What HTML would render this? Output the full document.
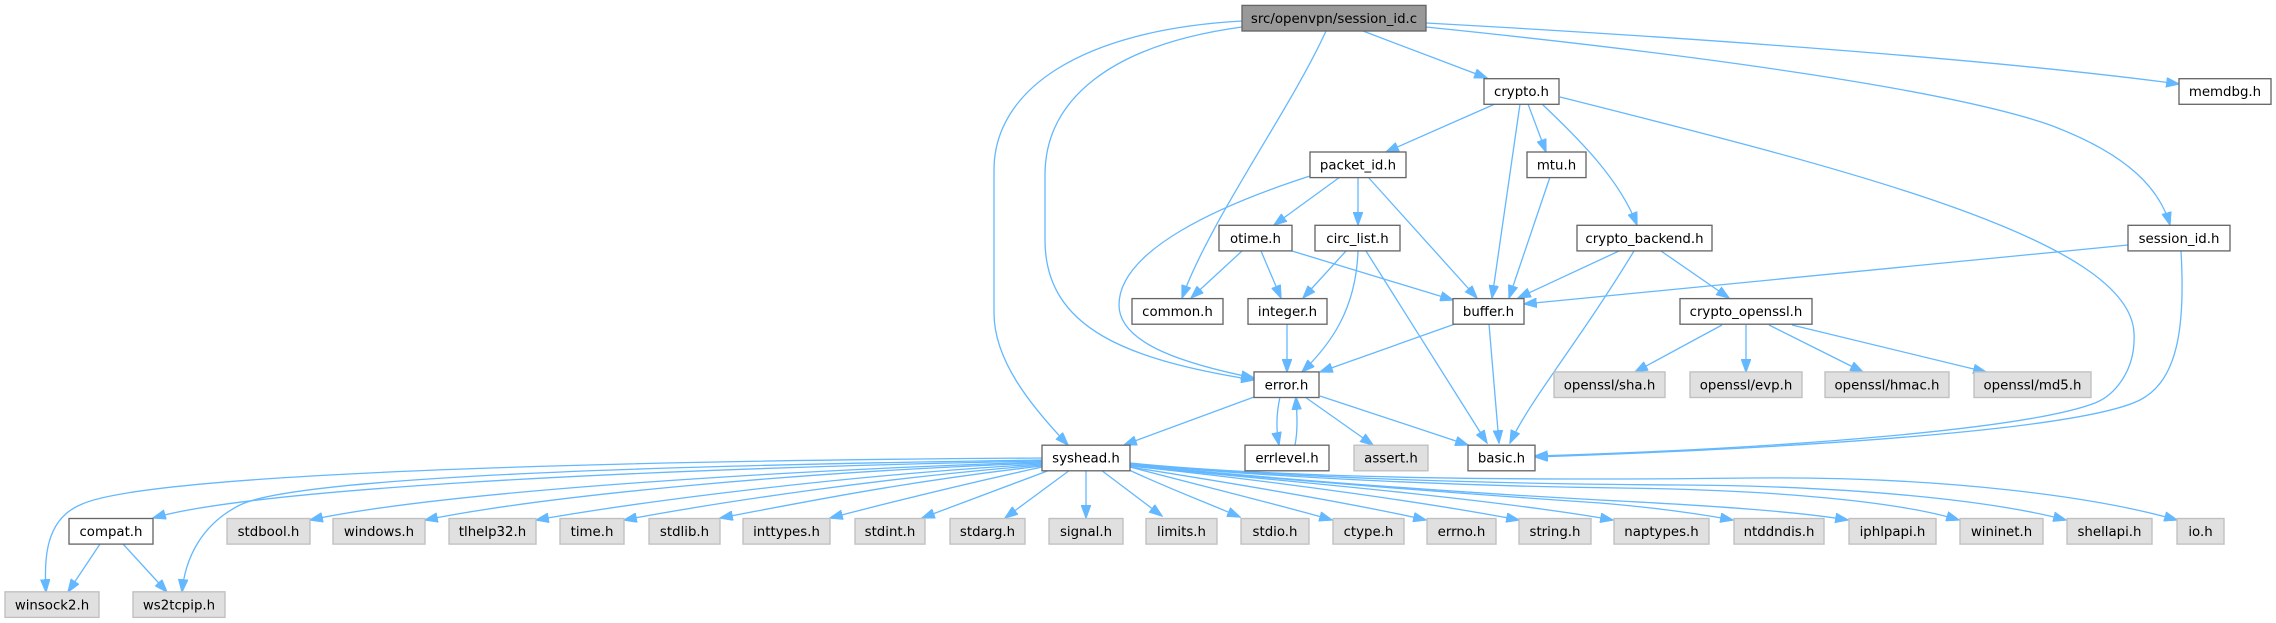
<!DOCTYPE html>
<html><head><meta charset="utf-8"><style>
html,body{margin:0;padding:0;background:#fff;width:2276px;height:623px;overflow:hidden}
svg{display:block}
.e{fill:none;stroke:#63b8ff;stroke-width:1.3;marker-end:url(#a)}
.w{fill:#fff;stroke:#666;stroke-width:1.33}
.g{fill:#e0e0e0;stroke:#bfbfbf;stroke-width:1.33}
.r{fill:#999;stroke:#666;stroke-width:1.33}
text{font-family:"DejaVu Sans","Liberation Sans",sans-serif;font-size:13.33px;fill:#000;text-anchor:middle}
</style></head><body>
<svg width="2276" height="623" viewBox="0 0 2276 623" xmlns="http://www.w3.org/2000/svg">
<defs><marker id="a" markerUnits="userSpaceOnUse" markerWidth="14" markerHeight="10" viewBox="0 0 13 9.4" refX="12" refY="4.7" orient="auto"><path d="M0,0 L13,4.7 L0,9.4 z" fill="#63b8ff" stroke="#63b8ff" stroke-width="0.5"/></marker></defs>
<!-- edges -->
<path class="e" d="M1242,21 C1080,30 994,90 994,170 L994,313 C994,360 1030,405 1068,445"/>
<path class="e" d="M1242,27 C1110,45 1045,100 1045,175 L1045,240 C1045,330 1130,360 1254,380"/>
<path class="e" d="M1326,31 C1290,110 1210,220 1182,298"/>
<path class="e" d="M1363,31 L1487,78"/>
<path class="e" d="M1426,23 C1700,38 2000,60 2179,84"/>
<path class="e" d="M1426,27 C1700,55 1950,90 2050,125 C2130,155 2160,190 2170,225"/>
<path class="e" d="M1495,104 L1386,152"/>
<path class="e" d="M1520,104 L1492,298"/>
<path class="e" d="M1528,104 L1546,152"/>
<path class="e" d="M1542,104 C1580,140 1620,180 1637,225"/>
<path class="e" d="M1560,97 C1850,170 2130,240 2134,333 C2136,370 2115,395 2095,403 C2030,428 1800,448 1535,456"/>
<path class="e" d="M2128,245 L1524,304"/>
<path class="e" d="M2181,251 C2185,320 2180,380 2140,400 C2080,430 1800,448 1535,457"/>
<path class="e" d="M1550,177 L1509,298"/>
<path class="e" d="M1619,251 L1518,298"/>
<path class="e" d="M1634,251 C1580,340 1530,400 1510,443"/>
<path class="e" d="M1661,251 L1729,298"/>
<path class="e" d="M1722,325 L1635,372"/>
<path class="e" d="M1746,325 L1746,372"/>
<path class="e" d="M1769,325 L1863,372"/>
<path class="e" d="M1792,325 L1986,372"/>
<path class="e" d="M1340,177 L1274,225"/>
<path class="e" d="M1358,177 L1358,225"/>
<path class="e" d="M1368,177 L1477,298"/>
<path class="e" d="M1310,176 C1220,205 1119,250 1119,305 C1119,345 1190,365 1254,378"/>
<path class="e" d="M1242,251 L1191,298"/>
<path class="e" d="M1261,251 L1281,298"/>
<path class="e" d="M1292,251 L1453,300"/>
<path class="e" d="M1346,251 L1303,298"/>
<path class="e" d="M1358,251 C1356,310 1330,345 1302,372"/>
<path class="e" d="M1366,251 L1487,443"/>
<path class="e" d="M1287,324 L1287,372"/>
<path class="e" d="M1455,324 L1320,372"/>
<path class="e" d="M1489,324 L1499,443"/>
<path class="e" d="M1254,397 L1124,445"/>
<path class="e" d="M1280,397 C1276,415 1276,430 1279,445"/>
<path class="e" d="M1295,445 C1298,430 1297,415 1296,397"/>
<path class="e" d="M1305,397 L1373,445"/>
<path class="e" d="M1320,396 L1468,445"/>
<path class="e" d="M1042,458 C700,460 150,470 80,505 C45,520 44,560 46,592"/>
<path class="e" d="M1042,460 C700,465 300,475 240,505 C200,525 185,560 182,592"/>
<path class="e" d="M1042,461 C600,470 250,490 153,518"/>
<path class="e" d="M1042,462 C800,470 450,490 310,520"/>
<path class="e" d="M1042,463 C800,472 550,495 425,520"/>
<path class="e" d="M1042,464 C850,475 650,500 536,520"/>
<path class="e" d="M1042,465 C880,478 720,502 624,520"/>
<path class="e" d="M1042,466 C900,482 790,505 720,518"/>
<path class="e" d="M1042,467 C960,485 880,505 830,518"/>
<path class="e" d="M1050,470 L922,518"/>
<path class="e" d="M1070,470 L1005,518"/>
<path class="e" d="M1086,470 L1086,518"/>
<path class="e" d="M1101,470 L1162,516"/>
<path class="e" d="M1125,468 C1160,485 1200,500 1240,517"/>
<path class="e" d="M1130,467 C1210,488 1280,505 1332,520"/>
<path class="e" d="M1130,467 C1250,486 1360,505 1426,520"/>
<path class="e" d="M1130,466 C1300,484 1440,505 1519,520"/>
<path class="e" d="M1130,466 C1300,482 1500,500 1613,520"/>
<path class="e" d="M1130,465 C1280,480 1480,495 1600,503 C1660,508 1700,514 1733,520"/>
<path class="e" d="M1130,465 C1280,479 1450,492 1600,500 C1720,506 1800,512 1848,520"/>
<path class="e" d="M1130,464 C1280,478 1460,486 1620,488 C1780,490 1900,502 1959,520"/>
<path class="e" d="M1130,464 C1280,477 1480,484 1680,485 C1850,486 1990,500 2066,520"/>
<path class="e" d="M1130,463 C1280,478 1500,481 1750,478 C1950,476 2100,498 2177,520"/>
<path class="e" d="M100,544 L68,592"/>
<path class="e" d="M123,544 L167,592"/>
<!-- nodes -->
<rect class="r" x="1242" y="5.4" width="184" height="25.6"/><text x="1334" y="22.9">src/openvpn/session_id.c</text>
<rect class="w" x="1484" y="78.7" width="75" height="25.6"/><text x="1521.5" y="96.2">crypto.h</text>
<rect class="w" x="2179" y="78.7" width="92" height="25.6"/><text x="2225" y="96.2">memdbg.h</text>
<rect class="w" x="1310" y="152" width="96" height="25.6"/><text x="1358" y="169.5">packet_id.h</text>
<rect class="w" x="1527" y="152" width="59" height="25.6"/><text x="1556.5" y="169.5">mtu.h</text>
<rect class="w" x="1219" y="225.3" width="73" height="25.6"/><text x="1255.5" y="242.8">otime.h</text>
<rect class="w" x="1315" y="225.3" width="85" height="25.6"/><text x="1357.5" y="242.8">circ_list.h</text>
<rect class="w" x="1577" y="225.3" width="135" height="25.6"/><text x="1644.5" y="242.8">crypto_backend.h</text>
<rect class="w" x="2128" y="225.3" width="102" height="25.6"/><text x="2179" y="242.8">session_id.h</text>
<rect class="w" x="1132" y="298.6" width="91" height="25.6"/><text x="1177.5" y="316.1">common.h</text>
<rect class="w" x="1248" y="298.6" width="79" height="25.6"/><text x="1287.5" y="316.1">integer.h</text>
<rect class="w" x="1453" y="298.6" width="71" height="25.6"/><text x="1488.5" y="316.1">buffer.h</text>
<rect class="w" x="1680" y="298.6" width="132" height="25.6"/><text x="1746" y="316.1">crypto_openssl.h</text>
<rect class="w" x="1254" y="371.9" width="65" height="25.6"/><text x="1286.5" y="389.4">error.h</text>
<rect class="g" x="1554" y="371.9" width="111" height="25.6"/><text x="1609.5" y="389.4">openssl/sha.h</text>
<rect class="g" x="1690" y="371.9" width="112" height="25.6"/><text x="1746" y="389.4">openssl/evp.h</text>
<rect class="g" x="1825" y="371.9" width="124" height="25.6"/><text x="1887" y="389.4">openssl/hmac.h</text>
<rect class="g" x="1974" y="371.9" width="117" height="25.6"/><text x="2032.5" y="389.4">openssl/md5.h</text>
<rect class="w" x="1042" y="445.2" width="88" height="25.6"/><text x="1086" y="462.7">syshead.h</text>
<rect class="w" x="1245" y="445.2" width="84" height="25.6"/><text x="1287" y="462.7">errlevel.h</text>
<rect class="g" x="1354" y="445.2" width="74" height="25.6"/><text x="1391" y="462.7">assert.h</text>
<rect class="w" x="1468" y="445.2" width="67" height="25.6"/><text x="1501.5" y="462.7">basic.h</text>
<rect class="w" x="69" y="518.5" width="84" height="25.6"/><text x="111" y="536">compat.h</text>
<rect class="g" x="227" y="518.5" width="83" height="25.6"/><text x="268.5" y="536">stdbool.h</text>
<rect class="g" x="333" y="518.5" width="92" height="25.6"/><text x="379" y="536">windows.h</text>
<rect class="g" x="449" y="518.5" width="87" height="25.6"/><text x="492.5" y="536">tlhelp32.h</text>
<rect class="g" x="560" y="518.5" width="64" height="25.6"/><text x="592" y="536">time.h</text>
<rect class="g" x="649" y="518.5" width="71" height="25.6"/><text x="684.5" y="536">stdlib.h</text>
<rect class="g" x="743" y="518.5" width="87" height="25.6"/><text x="786.5" y="536">inttypes.h</text>
<rect class="g" x="855" y="518.5" width="70" height="25.6"/><text x="890" y="536">stdint.h</text>
<rect class="g" x="950" y="518.5" width="75" height="25.6"/><text x="987.5" y="536">stdarg.h</text>
<rect class="g" x="1049" y="518.5" width="74" height="25.6"/><text x="1086" y="536">signal.h</text>
<rect class="g" x="1146" y="518.5" width="71" height="25.6"/><text x="1181.5" y="536">limits.h</text>
<rect class="g" x="1241" y="518.5" width="68" height="25.6"/><text x="1275" y="536">stdio.h</text>
<rect class="g" x="1333" y="518.5" width="71" height="25.6"/><text x="1368.5" y="536">ctype.h</text>
<rect class="g" x="1427" y="518.5" width="69" height="25.6"/><text x="1461.5" y="536">errno.h</text>
<rect class="g" x="1519" y="518.5" width="72" height="25.6"/><text x="1555" y="536">string.h</text>
<rect class="g" x="1614" y="518.5" width="95" height="25.6"/><text x="1661.5" y="536">naptypes.h</text>
<rect class="g" x="1734" y="518.5" width="90" height="25.6"/><text x="1779" y="536">ntddndis.h</text>
<rect class="g" x="1849" y="518.5" width="87" height="25.6"/><text x="1892.5" y="536">iphlpapi.h</text>
<rect class="g" x="1960" y="518.5" width="83" height="25.6"/><text x="2001.5" y="536">wininet.h</text>
<rect class="g" x="2067" y="518.5" width="85" height="25.6"/><text x="2109.5" y="536">shellapi.h</text>
<rect class="g" x="2177" y="518.5" width="47" height="25.6"/><text x="2200.5" y="536">io.h</text>
<rect class="g" x="5" y="591.8" width="94" height="25.6"/><text x="52" y="609.3">winsock2.h</text>
<rect class="g" x="133" y="591.8" width="92" height="25.6"/><text x="179" y="609.3">ws2tcpip.h</text>
</svg>
</body></html>
